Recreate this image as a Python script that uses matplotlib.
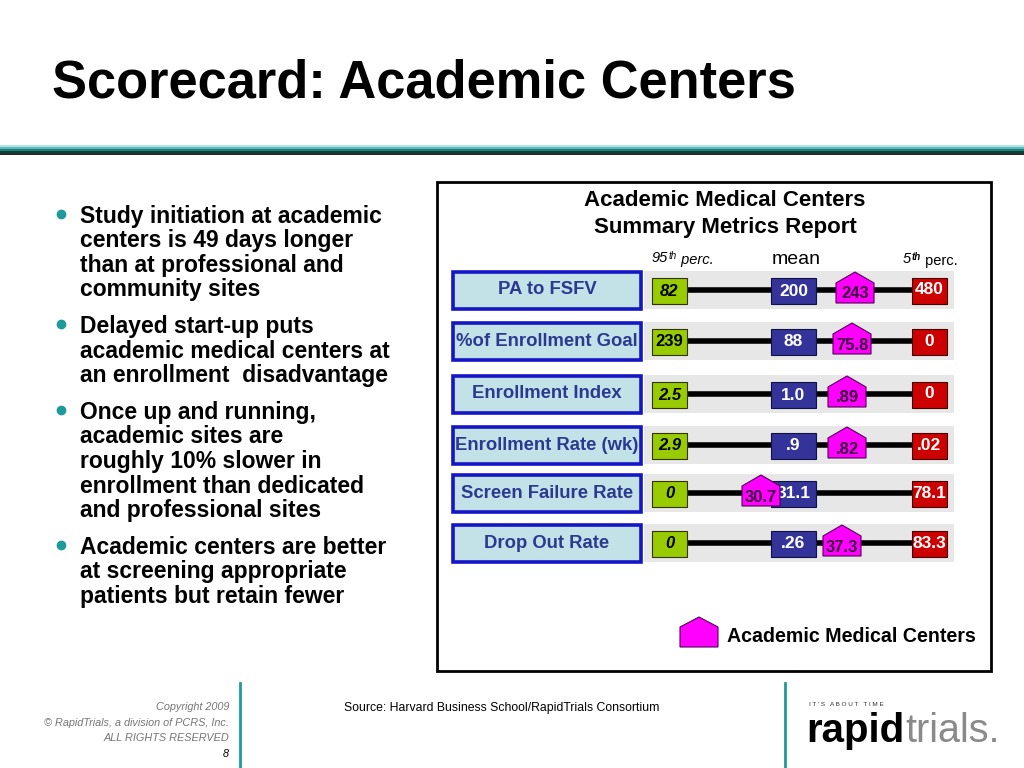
import matplotlib.pyplot as plt
from matplotlib.patches import Rectangle, Polygon

plt.rcParams['font.family'] = ['Liberation Sans', 'DejaVu Sans']

# --- data ---
metrics = ['PA to FSFV', '%of Enrollment Goal', 'Enrollment Index',
           'Enrollment Rate (wk)', 'Screen Failure Rate', 'Drop Out Rate']
p95 = ['82', '239', '2.5', '2.9', '0', '0']
means = ['200', '88', '1.0', '.9', '31.1', '.26']
amc = ['243', '75.8', '.89', '.82', '30.7', '37.3']
p5 = ['480', '0', '0', '.02', '78.1', '83.3']

bullets = [
    ['Study initiation at academic', 'centers is 49 days longer',
     'than at professional and', 'community sites'],
    ['Delayed start-up puts', 'academic medical centers at',
     'an enrollment  disadvantage'],
    ['Once up and running,', 'academic sites are',
     'roughly 10% slower in', 'enrollment than dedicated',
     'and professional sites'],
    ['Academic centers are better', 'at screening appropriate',
     'patients but retain fewer'],
]

# layout (pixels)
row_y = [290, 341, 394, 445, 493, 543]
amc_x = [855, 852, 847, 847, 761, 842]

TEAL = '#1f9a9a'
GREEN = '#99cc00'
BLUE = '#333399'
RED = '#cc0000'
PINK = '#ff00ff'

fig = plt.figure(figsize=(10.24, 7.68), dpi=100)
ax = fig.add_axes([0, 0, 1, 1])
ax.set_xlim(0, 1024)
ax.set_ylim(768, 0)
ax.axis('off')

# title and header rule
ax.text(52, 83, 'Scorecard: Academic Centers', fontsize=37.8, fontweight='bold',
        va='center', ha='left')
for y, c, lw in [(146, '#b8e6e6', 1.5), (148, '#5fbcbc', 1.5), (150, '#1f8080', 1.5),
                 (152, '#0d3f3f', 1.5), (153.5, '#000000', 1.2)]:
    ax.plot([0, 1024], [y, y], color=c, lw=lw, solid_capstyle='butt')

# bullets
y = 216
for group in bullets:
    ax.plot(61, y - 2, 'o', color=TEAL, ms=6)
    for line in group:
        ax.text(80, y, line, fontsize=16.5, fontweight='bold', va='center', ha='left')
        y += 24.6
    y += 12

# report frame
ax.add_patch(Rectangle((437, 182), 554, 489, fill=False, ec='black', lw=2))
ax.text(725, 200, 'Academic Medical Centers', fontsize=16, fontweight='bold',
        ha='center', va='center')
ax.text(725, 227, 'Summary Metrics Report', fontsize=16, fontweight='bold',
        ha='center', va='center')


def ordinal_head(x, y, num, sup_weight, perc_style):
    t1 = ax.text(x, y, num, fontsize=10.5, style='italic', ha='left', va='baseline')
    t2 = ax.annotate('th', xy=(1, 1), xycoords=t1, xytext=(0.5, 0),
                     textcoords='offset points', fontsize=7, style='italic',
                     fontweight=sup_weight, ha='left', va='top')
    ax.annotate(' perc.', xy=(1, 0), xycoords=t2, xytext=(0, -4.5),
                textcoords='offset points', fontsize=10.5, style=perc_style,
                ha='left', va='bottom')


# column headings
ordinal_head(652, 262, '95', 'normal', 'italic')
ax.text(796, 259, 'mean', fontsize=14, ha='center', va='center')
ordinal_head(903, 263, '5', 'bold', 'normal')


def house(cx, bottom, w=38, h=31, peak=11):
    pts = [(cx - w / 2, bottom), (cx - w / 2, bottom - h + peak), (cx, bottom - h),
           (cx + w / 2, bottom - h + peak), (cx + w / 2, bottom)]
    return Polygon(pts, closed=True, fc=PINK, ec='#550055', lw=0.8, zorder=6)


for i, name in enumerate(metrics):
    yc = row_y[i]
    # label box
    ax.add_patch(Rectangle((453, yc - 18.5), 188, 37, fc='#c2e2e8', ec='#1515c8', lw=2.6))
    ax.text(547, yc, name, fontsize=13.3, fontweight='bold', color='#2b3990',
            ha='center', va='center')
    # gray band
    ax.add_patch(Rectangle((644, yc - 19), 310, 38, fc='#e7e7e7', ec='none', zorder=1))
    # range line
    ax.plot([670, 930], [yc, yc], color='black', lw=4, zorder=2, solid_capstyle='butt')
    # 95th percentile
    ax.add_patch(Rectangle((652, yc - 12), 35, 26, fc=GREEN, ec='#333300', lw=0.8, zorder=3))
    ax.text(669.5, yc + 1, p95[i], fontsize=12, fontweight='bold',
            style='normal' if i == 1 else 'italic', ha='center', va='center', zorder=4)
    # mean
    ax.add_patch(Rectangle((771, yc - 12), 45, 26, fc=BLUE, ec='#111144', lw=0.8, zorder=3))
    ax.text(793.5, yc + 1, means[i], fontsize=12.5, fontweight='bold', color='white',
            ha='center', va='center', zorder=4)
    # 5th percentile
    ax.add_patch(Rectangle((912, yc - 12), 35, 26, fc=RED, ec='#440000', lw=0.8, zorder=3))
    ax.text(929.5, yc, p5[i], fontsize=12.5, fontweight='bold', color='white',
            ha='center', va='center', zorder=4)
    # academic medical centers marker
    ax.add_patch(house(amc_x[i], yc + 13))
    ax.text(amc_x[i], yc + 4, amc[i], fontsize=12, fontweight='bold', color='#3a003a',
            ha='center', va='center', zorder=7)

# legend
ax.add_patch(house(699, 647, w=38, h=30, peak=10))
ax.text(727, 636, 'Academic Medical Centers', fontsize=14.1, fontweight='bold',
        ha='left', va='center')

# footer
for x in (240, 785):
    ax.plot([x, x], [683, 768], color=TEAL, lw=2)
for k, line in enumerate(['Copyright 2009', '\u00a9 RapidTrials, a division of PCRS, Inc.',
                          'ALL RIGHTS RESERVED']):
    ax.text(229, 707 + k * 15.5, line, fontsize=7.8, style='italic', color='#777777',
            ha='right', va='center')
ax.text(229, 754, '8', fontsize=7.8, style='italic', color='black', ha='right', va='center')
ax.text(344, 708, 'Source: Harvard Business School/RapidTrials Consortium', fontsize=8.8,
        ha='left', va='center')

# logo
ax.text(809, 704, "I T ' S   A B O U T   T I M E", fontsize=4.6, color='#333333',
        ha='left', va='center')
ax.text(806, 742, 'rapid', fontsize=29, fontweight='bold', color='black',
        ha='left', va='baseline')
ax.text(905, 742, 'trials.', fontsize=28.5, color='#8a8a8a', ha='left', va='baseline')

fig.savefig('out.png', dpi=100)
